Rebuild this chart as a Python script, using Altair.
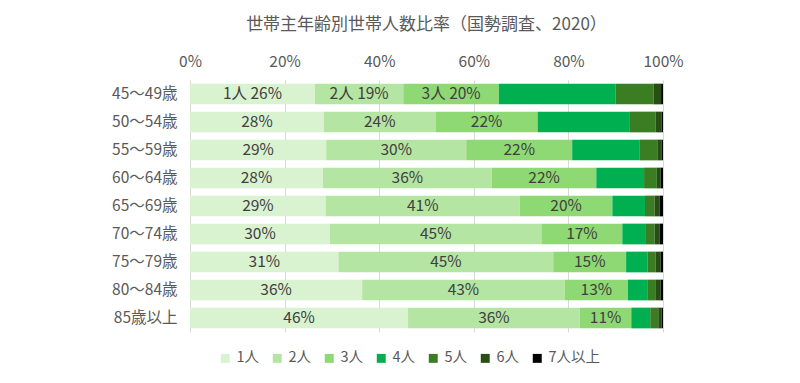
import altair as alt
import pandas as pd
import numpy as np

ages = ["45～49歳", "50～54歳", "55～59歳", "60～64歳", "65～69歳",
        "70～74歳", "75～79歳", "80～84歳", "85歳以上"]
series = ["1人", "2人", "3人", "4人", "5人", "6人", "7人以上"]
colors = ["#d9f2d0", "#b4e5a2", "#8ed973", "#00b050", "#3a7d22", "#274e13", "#000000"]

p1 = [26.4, 28.3, 28.8, 28.1, 28.7, 29.6, 31.4, 36.4, 46.1]
p2 = [18.7, 23.6, 29.6, 35.7, 41.0, 44.7, 45.4, 42.8, 36.3]
p3 = [20.2, 21.6, 22.4, 22.1, 19.6, 17.1, 15.4, 13.4, 10.9]
p4 = [24.7, 19.5, 14.3, 10.1, 6.9, 5.0, 4.5, 4.2, 4.0]
p5 = [8.0, 5.4, 3.7, 2.7, 2.0, 1.8, 1.7, 1.7, 1.7]
p6 = [1.6, 1.3, 0.9, 0.8, 1.1, 1.1, 1.1, 1.0, 0.7]
p7 = [0.4, 0.3, 0.3, 0.5, 0.7, 0.7, 0.5, 0.5, 0.3]
values = [p1, p2, p3, p4, p5, p6, p7]

rows = []
for i, age in enumerate(ages):
    cum = 0.0
    for j, s in enumerate(series):
        v = values[j][i]
        mid = cum + v / 2
        cum += v
        if j < 3:
            pct = f"{int(round(v))}%"
            label = f"{s} {pct}" if i == 0 else pct
        else:
            label = ""
        rows.append({"age": age, "series": s, "order": j, "value": v,
                     "mid": mid, "label": label})
df = pd.DataFrame(rows)

FONT = "Noto Sans CJK JP"
GRAY = "#595959"

y_enc = alt.Y("age:N", sort=ages, title=None,
              scale=alt.Scale(paddingInner=0.26, paddingOuter=0.13),
              axis=alt.Axis(labelFontSize=15.5, labelColor=GRAY, labelFont=FONT,
                            ticks=False, domain=False, labelPadding=13))

bars = alt.Chart(df).mark_bar().encode(
    x=alt.X("value:Q", stack="zero", title=None,
            scale=alt.Scale(domain=[0, 100], nice=False),
            axis=alt.Axis(orient="top", values=[0, 20, 40, 60, 80, 100],
                          labelExpr="datum.value + '%'", labelFontSize=15.5,
                          labelColor=GRAY, labelFont=FONT, ticks=False, domain=False,
                          labelFlush=False,
                          grid=True, gridColor="#d9d9d9", labelPadding=11)),
    y=y_enc,
    color=alt.Color("series:N", sort=series,
                    scale=alt.Scale(domain=series, range=colors),
                    legend=alt.Legend(title=None, orient="none", direction="horizontal",
                                      legendX=28, legendY=271, symbolType="square",
                                      symbolSize=80, symbolStrokeWidth=0,
                                      labelFontSize=14.5, labelColor=GRAY, labelFont=FONT,
                                      labelOffset=4, columnPadding=10, padding=0)),
    order=alt.Order("order:Q"),
)

texts = alt.Chart(df).mark_text(fontSize=15.5, color="#404040", font=FONT).encode(
    x=alt.X("mid:Q"),
    y=alt.Y("age:N", sort=ages),
    text="label:N",
)

chart = alt.layer(bars, texts).properties(
    width=473, height=252,
    title=alt.TitleParams("世帯主年齢別世帯人数比率（国勢調査、2020）", fontSize=17,
                          fontWeight="normal", color=GRAY, font=FONT, offset=20,
                          anchor="middle"),
    autosize=alt.AutoSizeParams(type="none"),
    padding={"left": 182, "top": 72, "right": 129, "bottom": 43},
).configure_view(stroke=None)

chart.save("out.html", embed_options={"renderer": "svg", "actions": False})
